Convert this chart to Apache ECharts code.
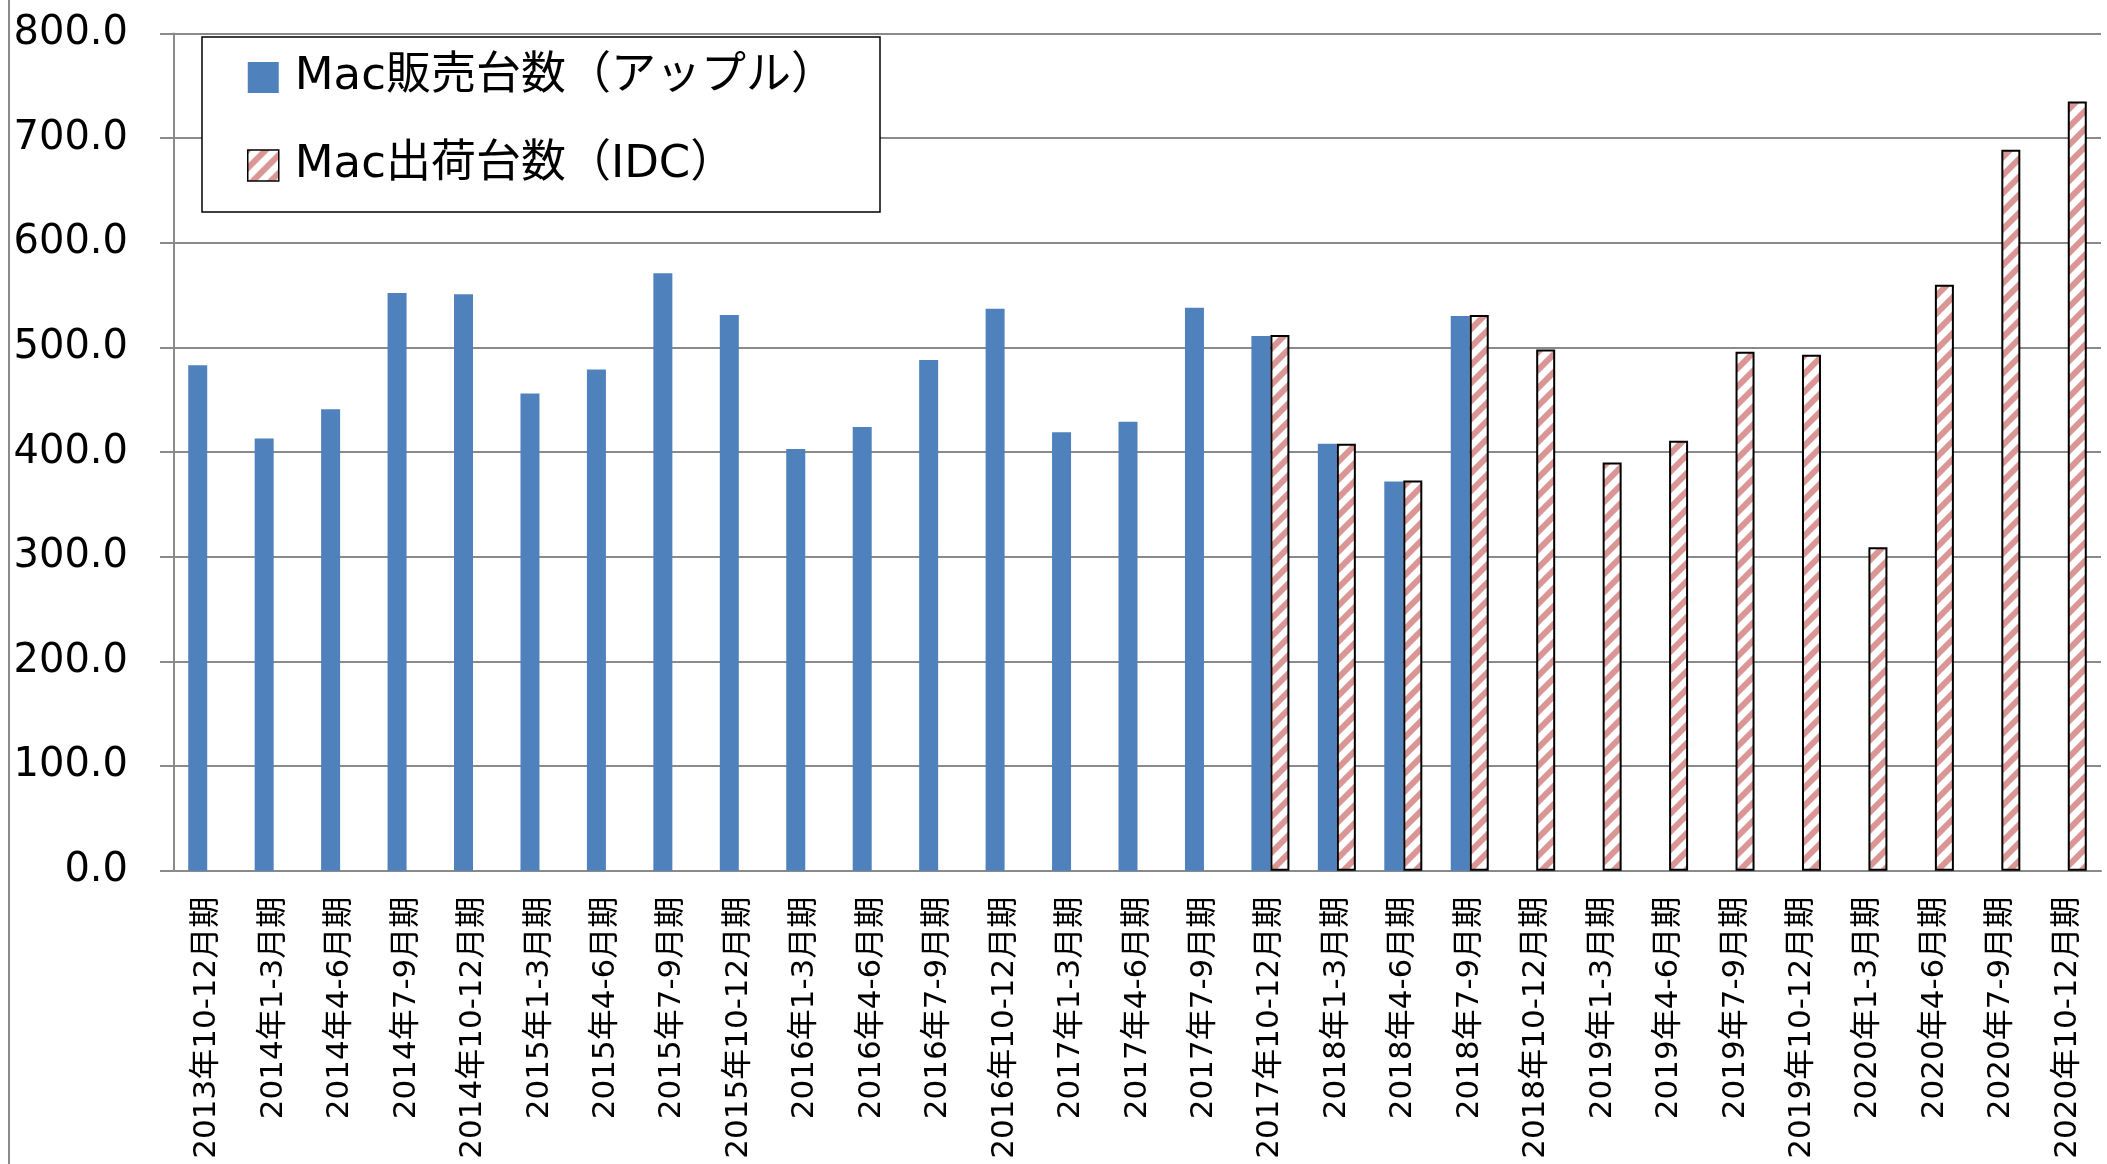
<!DOCTYPE html>
<html lang="ja">

<head>
    <meta charset="UTF-8">
    <title>Mac販売台数とMac出荷台数</title>
    <script src="https://cdn.jsdelivr.net/npm/echarts@6.0.0/dist/echarts.min.js"></script>
    <style>
        html, body {
            margin: 0;
            padding: 0;
            background: #fff;
        }

        #chart {
            width: 2107px;
            height: 1164px;
        }
    </style>
</head>

<body>
    <div id="chart"></div>
    <script>
        // 四半期ラベル
        var categories = [
            '2013年10-12月期',
            '2014年1-3月期', '2014年4-6月期', '2014年7-9月期', '2014年10-12月期',
            '2015年1-3月期', '2015年4-6月期', '2015年7-9月期', '2015年10-12月期',
            '2016年1-3月期', '2016年4-6月期', '2016年7-9月期', '2016年10-12月期',
            '2017年1-3月期', '2017年4-6月期', '2017年7-9月期', '2017年10-12月期',
            '2018年1-3月期', '2018年4-6月期', '2018年7-9月期', '2018年10-12月期',
            '2019年1-3月期', '2019年4-6月期', '2019年7-9月期', '2019年10-12月期',
            '2020年1-3月期', '2020年4-6月期', '2020年7-9月期', '2020年10-12月期'
        ];
        // Mac販売台数（アップル）
        var appleSales = [
            483, 413, 441, 552, 551, 456, 479, 571, 531, 403, 424, 488, 537,
            419, 429, 538, 511, 408, 372, 530,
            null, null, null, null, null, null, null, null, null
        ];
        // Mac出荷台数（IDC）
        var idcShipments = [
            null, null, null, null, null, null, null, null, null, null, null, null, null,
            null, null, null, 512, 408, 373, 531,
            498, 390, 411, 496, 493, 309, 560, 689, 735
        ];
        var seriesNames = ['Mac販売台数（アップル）', 'Mac出荷台数（IDC）'];
        var yMin = 0;
        var yMax = 800;
        var yStep = 100;

        var FONT = "'DejaVu Sans', 'Noto Sans CJK JP', sans-serif";
        var GRAY = '#8a8a8a';

        // 斜線パターン
        function stripeCanvas() {
            var s = 18;
            var cv = document.createElement('canvas');
            cv.width = s;
            cv.height = s;
            var ctx = cv.getContext('2d');
            ctx.fillStyle = '#fff';
            ctx.fillRect(0, 0, s, s);
            ctx.strokeStyle = '#d99694';
            ctx.lineWidth = 6;
            [0, s, 2 * s].forEach(function (c) {
                ctx.beginPath();
                ctx.moveTo(-s, c + s);
                ctx.lineTo(c + s, -s);
                ctx.stroke();
            });
            return cv;
        }
        var hatch = { image: stripeCanvas(), repeat: 'repeat' };

        var myChart = echarts.init(document.getElementById('chart'), null, { renderer: 'canvas' });
        var option = {
            animation: false,
            textStyle: { fontFamily: FONT },
            grid: {
                left: 174,
                right: 6,
                top: 33.6,
                bottom: 293.3,
                outerBoundsMode: 'none',
                containLabel: false
            },
            graphic: [
                {
                    type: 'line',
                    z: 3,
                    shape: { x1: 9, y1: 0, x2: 9, y2: 1164 },
                    style: { stroke: GRAY, lineWidth: 2 }
                },
                {
                    type: 'rect',
                    z: 3,
                    shape: { x: 202, y: 37, width: 678, height: 175 },
                    style: { fill: '#fff', stroke: '#000', lineWidth: 1.5 }
                }
            ],
            legend: {
                orient: 'vertical',
                left: 247,
                top: 50,
                z: 5,
                padding: 0,
                itemWidth: 31,
                itemHeight: 31,
                itemGap: 33,
                textStyle: {
                    fontFamily: FONT,
                    fontSize: 45,
                    lineHeight: 45,
                    color: '#000',
                    padding: [0, 0, 10, 11]
                },
                data: [
                    { name: seriesNames[0], icon: 'rect', itemStyle: { color: '#4f81bd', borderWidth: 0 } },
                    { name: seriesNames[1], icon: 'rect', itemStyle: { color: hatch, borderColor: '#000', borderWidth: 1.5 } }
                ]
            },
            xAxis: {
                type: 'category',
                data: categories,
                axisLine: { lineStyle: { color: GRAY, width: 2 } },
                axisTick: { length: 11, lineStyle: { color: GRAY, width: 2 } },
                axisLabel: {
                    interval: 0,
                    rotate: 90,
                    margin: 26,
                    fontFamily: FONT,
                    fontSize: 31,
                    color: '#000'
                }
            },
            yAxis: {
                type: 'value',
                min: yMin,
                max: yMax,
                interval: yStep,
                axisLine: { show: true, lineStyle: { color: GRAY, width: 2 } },
                axisTick: { show: true, length: 14, lineStyle: { color: GRAY, width: 2 } },
                splitLine: { lineStyle: { color: GRAY, width: 2 } },
                axisLabel: {
                    margin: 46,
                    fontFamily: FONT,
                    fontSize: 40,
                    color: '#000',
                    padding: [0, 0, 12, 0],
                    formatter: function (v) { return v.toFixed(1); }
                }
            },
            series: [
                {
                    name: seriesNames[0],
                    type: 'bar',
                    data: appleSales,
                    barWidth: 19,
                    barGap: '0%',
                    itemStyle: { color: '#4f81bd' }
                },
                {
                    name: seriesNames[1],
                    type: 'bar',
                    data: idcShipments,
                    barWidth: 19,
                    barGap: '0%',
                    itemStyle: { color: hatch, borderColor: '#000', borderWidth: 2 }
                }
            ]
        };
        myChart.setOption(option);
    </script>
</body>

</html>
